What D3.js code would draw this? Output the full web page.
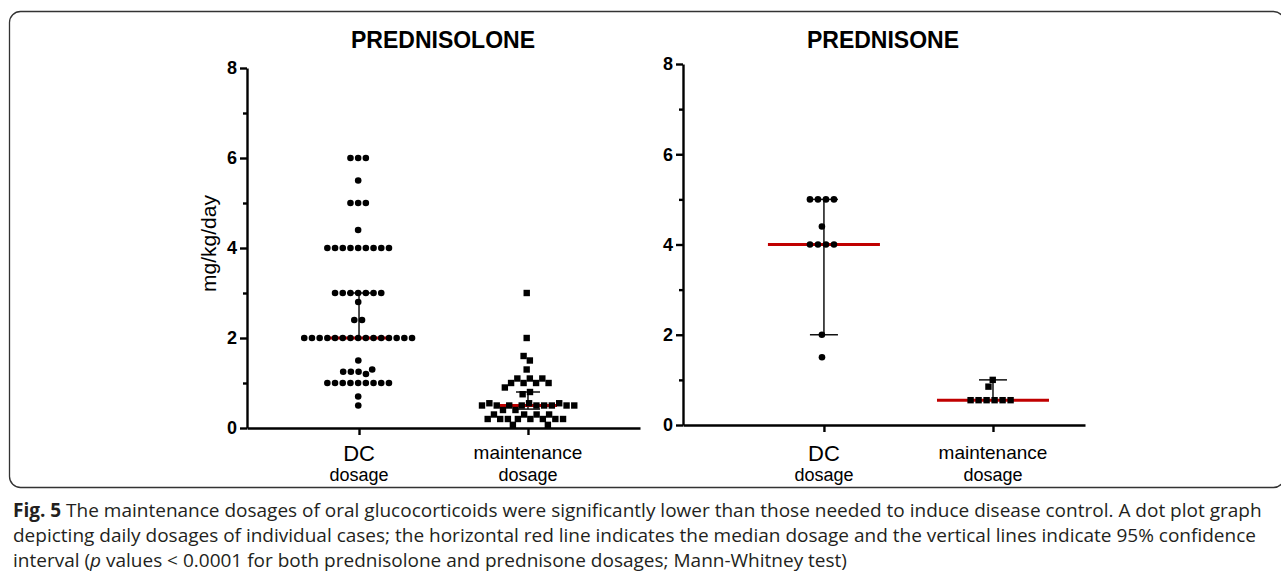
<!DOCTYPE html>
<html>
<head>
<meta charset="utf-8">
<script src="https://cdn.jsdelivr.net/npm/d3@7"></script>
<style>
  body { margin: 0; background: #fff; }
  svg { display: block; }
</style>
</head>
<body>
<svg id="fig" width="1281" height="584"></svg>
<script>
// Categories and tick labels
var categories = ["DC dosage", "maintenance dosage"];
var catLines = [["DC", "dosage"], ["maintenance", "dosage"]];
var majorTicks = [0, 2, 4, 6, 8];
var minorTicks = [1, 3, 5, 7];

// Prednisolone: individual daily dosages (mg/kg/day)
var prednisoloneDC = [6, 6, 6, 5.5, 5, 5, 5, 4.4,
    4, 4, 4, 4, 4, 4, 4, 4, 4,
    3, 3, 3, 3, 3, 3, 3, 2.8, 2.4, 2.4,
    2, 2, 2, 2, 2, 2, 2, 2, 2, 2, 2, 2, 2, 2, 2,
    1.5, 1.25, 1.25, 1.2, 1.25, 1.3,
    1, 1, 1, 1, 1, 1, 1, 1, 1, 0.7, 0.5];
var prednisoloneMaint = [3, 2, 1.6, 1.5, 1.3, 1.1, 1.1, 1.1, 1, 1, 1, 1, 0.9, 0.8, 0.75,
    0.55, 0.55, 0.55, 0.5, 0.5, 0.5, 0.5, 0.5, 0.5, 0.5, 0.5, 0.5,
    0.4, 0.4, 0.3, 0.3, 0.3, 0.3,
    0.2, 0.2, 0.2, 0.2, 0.2, 0.2, 0.2, 0.2, 0.07, 0.07];
var prednisoloneMedian = [2, 0.5];
var prednisoloneCI = [[2, 3], [0.42, 0.8]];

// Prednisone
var prednisoneDC = [5, 5, 5, 5, 4.4, 4, 4, 4, 4, 2, 1.5];
var prednisoneMaint = [1, 0.85, 0.55, 0.55, 0.55, 0.55, 0.55, 0.55];
var prednisoneMedian = [4, 0.55];
var prednisoneCI = [[2, 5], [0.55, 1.0]];

var caption = [
    "The maintenance dosages of oral glucocorticoids were significantly lower than those needed to induce disease control. A dot plot graph",
    "depicting daily dosages of individual cases; the horizontal red line indicates the median dosage and the vertical lines indicate 95% confidence",
    ["interval (", "p", " values < 0.0001 for both prednisolone and prednisone dosages; Mann-Whitney test)"]
];

var RED = "#c00000";
var FONT = "Liberation Sans, Arial, sans-serif";
var svg = d3.select("#fig");

// panel frame with rounded corners
svg.append("rect")
    .attr("x", 9.5).attr("y", 11.5)
    .attr("width", 1275).attr("height", 476)
    .attr("rx", 11)
    .attr("fill", "none")
    .attr("stroke", "#333")
    .attr("stroke-width", 1.3);

// beeswarm layout: y fixed by value, x spread by collision
function swarm(values, cx, y, radius) {
    var nodes = values.map(function (v) { return { v: v, fy: y(v) }; });
    var sim = d3.forceSimulation(nodes)
        .force("x", d3.forceX(cx).strength(0.08))
        .force("collide", d3.forceCollide(radius).iterations(4))
        .stop();
    for (var i = 0; i < 400; i++) sim.tick();
    return nodes;
}

function drawPanel(cfg) {
    var g = svg.append("g");

    var y = d3.scaleLinear().domain([0, 8]).range([cfg.y0, cfg.y8]);
    var x = d3.scalePoint().domain(categories)
        .range([cfg.axisX, cfg.axisEnd])
        .padding(cfg.padding).align(cfg.align);

    // title
    g.append("text")
        .attr("x", cfg.titleX).attr("y", 48)
        .attr("text-anchor", "middle")
        .style("font-family", FONT)
        .style("font-weight", "bold")
        .style("font-size", "23px")
        .text(cfg.title);

    // y axis (major + minor ticks)
    var yAxis = g.append("g")
        .attr("transform", "translate(" + cfg.axisX + ",0)")
        .call(d3.axisLeft(y).tickValues(majorTicks).tickSize(7).tickSizeOuter(0).tickPadding(3));
    yAxis.selectAll("text")
        .style("font-family", FONT)
        .style("font-weight", "bold")
        .style("font-size", "18px")
        .attr("fill", "#000");
    var yMinor = g.append("g")
        .attr("transform", "translate(" + cfg.axisX + ",0)")
        .call(d3.axisLeft(y).tickValues(minorTicks).tickSize(4).tickSizeOuter(0).tickFormat(""));
    yMinor.select(".domain").remove();
    g.selectAll(".tick line, .domain").attr("stroke", "#000").attr("stroke-width", 2.4);

    // x axis
    var xAxis = g.append("g")
        .attr("transform", "translate(0," + cfg.y0 + ")")
        .call(d3.axisBottom(x).tickSize(7).tickSizeOuter(0).tickFormat(""));
    xAxis.selectAll(".tick line, .domain").attr("stroke", "#000").attr("stroke-width", 2.4);

    // category labels (two lines each)
    var labelSizes = [[22, 18], [19, 18]];
    categories.forEach(function (c, i) {
        var t = g.append("text")
            .attr("text-anchor", "middle")
            .style("font-family", FONT);
        catLines[i].forEach(function (line, k) {
            t.append("tspan")
                .attr("x", x(c))
                .attr("y", (i === 0 ? 461 : 459) + k * (i === 0 ? 20 : 22))
                .style("font-size", labelSizes[i][k] + "px")
                .text(line);
        });
    });

    // y label
    if (cfg.yLabel) {
        g.append("text")
            .attr("transform", "translate(" + (cfg.axisX - 31) + "," + y(4.1) + ") rotate(-90)")
            .attr("text-anchor", "middle")
            .style("font-family", FONT)
            .style("font-size", "21px")
            .text(cfg.yLabel);
    }

    // medians and confidence intervals
    categories.forEach(function (c, i) {
        var cx = x(c);
        var ci = cfg.ci[i];
        g.append("line")
            .attr("x1", cx).attr("x2", cx)
            .attr("y1", y(ci[0])).attr("y2", y(ci[1]))
            .attr("stroke", "#111").attr("stroke-width", 1.5);
        ci.forEach(function (v) {
            g.append("line")
                .attr("x1", cx - cfg.capHalf).attr("x2", cx + cfg.capHalf)
                .attr("y1", y(v)).attr("y2", y(v))
                .attr("stroke", "#111").attr("stroke-width", 1.5);
        });
        g.append("line")
            .attr("x1", cx - cfg.medHalf).attr("x2", cx + cfg.medHalf)
            .attr("y1", y(cfg.median[i])).attr("y2", y(cfg.median[i]))
            .attr("stroke", RED).attr("stroke-width", 3);
    });

    // DC points: circles
    var dcNodes = swarm(cfg.dc, x(categories[0]), y, cfg.spacing / 2);
    g.selectAll("circle.pt")
        .data(dcNodes)
        .enter().append("circle")
        .attr("class", "pt")
        .attr("cx", function (d) { return d.x; })
        .attr("cy", function (d) { return d.fy; })
        .attr("r", 3.3)
        .attr("fill", "#000");

    // maintenance points: squares
    var mNodes = swarm(cfg.maint, x(categories[1]), y, cfg.spacing / 2);
    g.selectAll("rect.pt")
        .data(mNodes)
        .enter().append("rect")
        .attr("class", "pt")
        .attr("x", function (d) { return d.x - 3.2; })
        .attr("y", function (d) { return d.fy - 3.2; })
        .attr("width", 6.4).attr("height", 6.4)
        .attr("fill", "#000");
}

drawPanel({
    title: "PREDNISOLONE", titleX: 443,
    axisX: 247, axisEnd: 640, padding: 0.663, align: 0.5,
    y0: 428, y8: 68,
    yLabel: "mg/kg/day",
    dc: prednisoloneDC, maint: prednisoloneMaint,
    median: prednisoloneMedian, ci: prednisoloneCI,
    medHalf: 29, capHalf: 12, spacing: 7.7
});

drawPanel({
    title: "PREDNISONE", titleX: 883,
    axisX: 683, axisEnd: 1085, padding: 0.689, align: 0.605,
    y0: 425, y8: 64,
    yLabel: null,
    dc: prednisoneDC, maint: prednisoneMaint,
    median: prednisoneMedian, ci: prednisoneCI,
    medHalf: 56, capHalf: 14, spacing: 8
});

// caption
var cap = svg.append("g")
    .style("font-family", "Open Sans, Noto Sans, sans-serif")
    .style("font-size", "16px")
    .attr("fill", "#231f20");
var l1 = cap.append("text").attr("x", 13).attr("y", 517);
l1.append("tspan").style("font-weight", "bold").text("Fig. 5");
l1.append("tspan").text(" " + caption[0]);
cap.append("text").attr("x", 13).attr("y", 542).text(caption[1]);
var l3 = cap.append("text").attr("x", 13).attr("y", 567);
l3.append("tspan").text(caption[2][0]);
l3.append("tspan").style("font-style", "italic").text(caption[2][1]);
l3.append("tspan").text(caption[2][2]);

// fit caption width to the first line's extent
var w1 = l1.node().getComputedTextLength();
var fs = 16 * (1249 / w1);
cap.style("font-size", fs + "px");
</script>
</body>
</html>
